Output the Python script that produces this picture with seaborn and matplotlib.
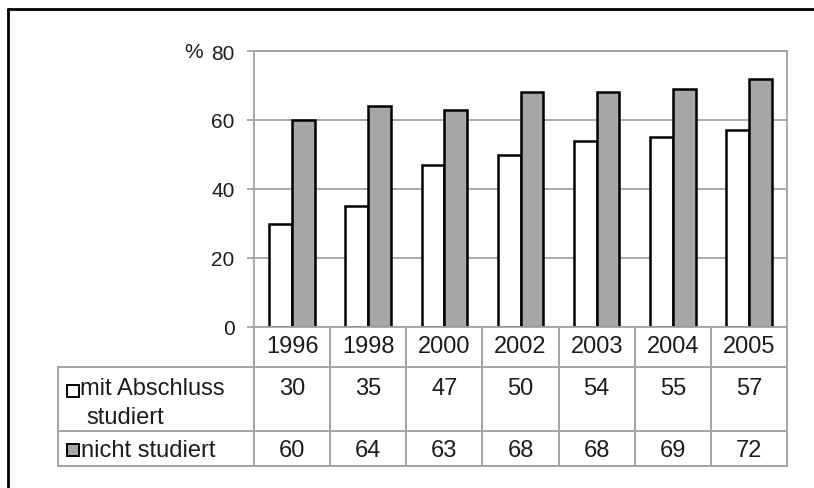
import numpy as np
import pandas as pd
import seaborn as sns
import matplotlib.pyplot as plt
from matplotlib.lines import Line2D
from matplotlib.patches import Rectangle
from matplotlib.transforms import blended_transform_factory

# Data
jahre = ["1996", "1998", "2000", "2002", "2003", "2004", "2005"]
mit_abschluss = [30, 35, 47, 50, 54, 55, 57]
nicht_studiert = [60, 64, 63, 68, 68, 69, 72]
gruppen = ["mit Abschluss studiert", "nicht studiert"]
y_ticks = [0, 20, 40, 60, 80]

df = pd.DataFrame({
    "Jahr": jahre * 2,
    "Anteil": mit_abschluss + nicht_studiert,
    "Gruppe": [gruppen[0]] * len(jahre) + [gruppen[1]] * len(jahre),
})

sns.set_theme(style="white")
plt.rcParams["font.family"] = ["Liberation Sans", "DejaVu Sans"]

GRID = "#a3a3a3"
BAR_GRAY = "#a6a6a6"
TXT = "#1c1c1c"
W, H = 814, 489

fig = plt.figure(figsize=(W / 100, H / 100), dpi=100)


def fx(x):
    return x / W


def fy(y):
    return 1 - y / H


ax = fig.add_axes([fx(254), fy(328), fx(787) - fx(254), fy(52) - fy(328)])
sns.barplot(data=df, x="Jahr", y="Anteil", hue="Gruppe",
            palette=["white", BAR_GRAY], saturation=1,
            edgecolor="black", linewidth=1.8, width=0.6, gap=0,
            legend=False, ax=ax)

ax.set_xlim(-0.5, len(jahre) - 0.5)
ax.set_ylim(0, 80)
ax.set_yticks(y_ticks)
ax.set_xticks([])
ax.set_xlabel("")
ax.set_ylabel("")
ax.set_axisbelow(True)
ax.yaxis.grid(True, color=GRID, lw=1.3)
ax.tick_params(axis="y", left=True, length=5, width=1.3, color=GRID,
               pad=9, labelsize=15, labelcolor=TXT)
for side in ["left", "right", "top", "bottom"]:
    ax.spines[side].set_visible(True)
    ax.spines[side].set_color(GRID)
    ax.spines[side].set_linewidth(1.3)

fig.text(fx(203), fy(51), "%", ha="right", va="center_baseline", fontsize=15, color=TXT)

# Data table below the axis
bt = blended_transform_factory(ax.transData, fig.transFigure)
for yy in [368, 432, 467]:
    fig.add_artist(Line2D([fx(58), fx(787)], [fy(yy), fy(yy)], color=GRID, lw=1.4))
fig.add_artist(Line2D([fx(58), fx(58)], [fy(368), fy(467)], color=GRID, lw=1.4))
for i in range(len(jahre) + 1):
    xd = i - 0.5
    fig.add_artist(Line2D([xd, xd], [fy(328), fy(467)], color=GRID, lw=1.4,
                          transform=bt))

FS = 17
for i, j in enumerate(jahre):
    fig.text(i, fy(347), j, transform=bt, ha="center", va="center", fontsize=FS, color=TXT)
    fig.text(i, fy(389), str(mit_abschluss[i]), transform=bt, ha="center",
             va="center", fontsize=FS, color=TXT)
    fig.text(i, fy(451), str(nicht_studiert[i]), transform=bt, ha="center",
             va="center", fontsize=FS, color=TXT)

# Row labels with their colour keys
fig.add_artist(Rectangle((fx(67), fy(398)), fx(12), 12 / H, facecolor="white",
                         edgecolor="black", lw=1.4, transform=fig.transFigure))
fig.add_artist(Rectangle((fx(67), fy(457)), fx(12), 12 / H, facecolor=BAR_GRAY,
                         edgecolor="black", lw=1.4, transform=fig.transFigure))
fig.text(fx(80), fy(389), "mit Abschluss", ha="left", va="center", fontsize=FS, color=TXT)
fig.text(fx(86), fy(418), "studiert", ha="left", va="center", fontsize=FS, color=TXT)
fig.text(fx(81), fy(451), "nicht studiert", ha="left", va="center", fontsize=FS, color=TXT)

# Outer frame
fig.add_artist(Line2D([fx(8), fx(8)], [fy(10), 0], color="black", lw=2))
fig.add_artist(Line2D([fx(8), 1], [fy(10), fy(10)], color="black", lw=2))

fig.savefig("out.png", dpi=100)
